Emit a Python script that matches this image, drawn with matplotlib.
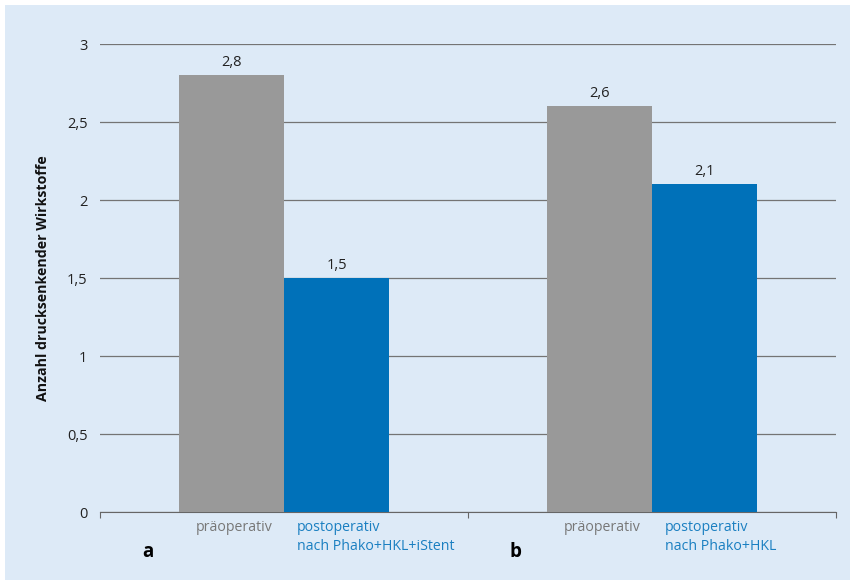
import numpy as np
import matplotlib.pyplot as plt
from matplotlib.patches import Rectangle

groups = ['a', 'b']
pre_values = [2.8, 2.6]
post_values = [1.5, 2.1]
pre_label = 'präoperativ'
post_labels = ['postoperativ\nnach Phako+HKL+iStent', 'postoperativ\nnach Phako+HKL']
yticks = [0, 0.5, 1, 1.5, 2, 2.5, 3]
ytick_labels = ['0', '0,5', '1', '1,5', '2', '2,5', '3']

bg = '#ddeaf7'
gray = '#999999'
blue = '#0071b9'

plt.rcParams['font.family'] = ['Open Sans', 'DejaVu Sans']

fig = plt.figure(figsize=(8.55, 5.84), dpi=100)
fig.patch.set_facecolor('white')
fig.patches.append(Rectangle((5 / 855, 4 / 584), 845 / 855, 575 / 584,
                             transform=fig.transFigure, facecolor=bg,
                             edgecolor='none', zorder=-10))

W, H = 855, 584
ax = fig.add_axes([100 / W, (H - 512) / H, 736 / W, 468 / H])
ax.set_facecolor('none')

x = np.array([0.5, 1.5])
w = 105 / 368
ax.bar(x - w / 2, pre_values, width=w, color=gray, zorder=3)
ax.bar(x + w / 2, post_values, width=w, color=blue, zorder=3)

# value labels above the bars
for xs, vals in [(x - w / 2, pre_values), (x + w / 2, post_values)]:
    for xi, v in zip(xs, vals):
        ax.text(xi, v + 0.06, f'{v:.1f}'.replace('.', ','), ha='center',
                va='baseline', fontsize=10.5, color='#222222')

ax.set_xlim(0, 2)
ax.set_ylim(0, 3)
ax.set_yticks(yticks)
ax.set_yticklabels(ytick_labels, fontsize=10.5, color='#222222')
ax.yaxis.grid(True, color='#747474', linewidth=0.9, zorder=0)
ax.tick_params(axis='y', length=0, pad=9)
ax.set_xticks([0, 1, 2])
ax.set_xticklabels([])
ax.tick_params(axis='x', length=4, color='#666666', direction='out')
for s in ['top', 'right', 'left']:
    ax.spines[s].set_visible(False)
ax.spines['bottom'].set_color('#666666')

ax.set_ylabel('Anzahl drucksenkender Wirkstoffe', fontsize=10.2, fontweight='bold',
              color='#111111', labelpad=12)

trans = ax.get_xaxis_transform()
for i, g in enumerate(groups):
    ax.text(x[i] - 0.03, -0.018, pre_label, transform=trans, ha='right', va='top',
            fontsize=10.2, color='#777777')
    ax.text(x[i] + 0.035, -0.018, post_labels[i], transform=trans, ha='left', va='top',
            fontsize=10.2, color='#1a7fc1', linespacing=1.3)
    ax.text(x[i] - 0.37, -0.065, g, transform=trans, ha='center', va='top',
            fontsize=13.5, fontweight='bold', color='black')

fig.savefig('out.png', dpi=100, facecolor=fig.get_facecolor())
